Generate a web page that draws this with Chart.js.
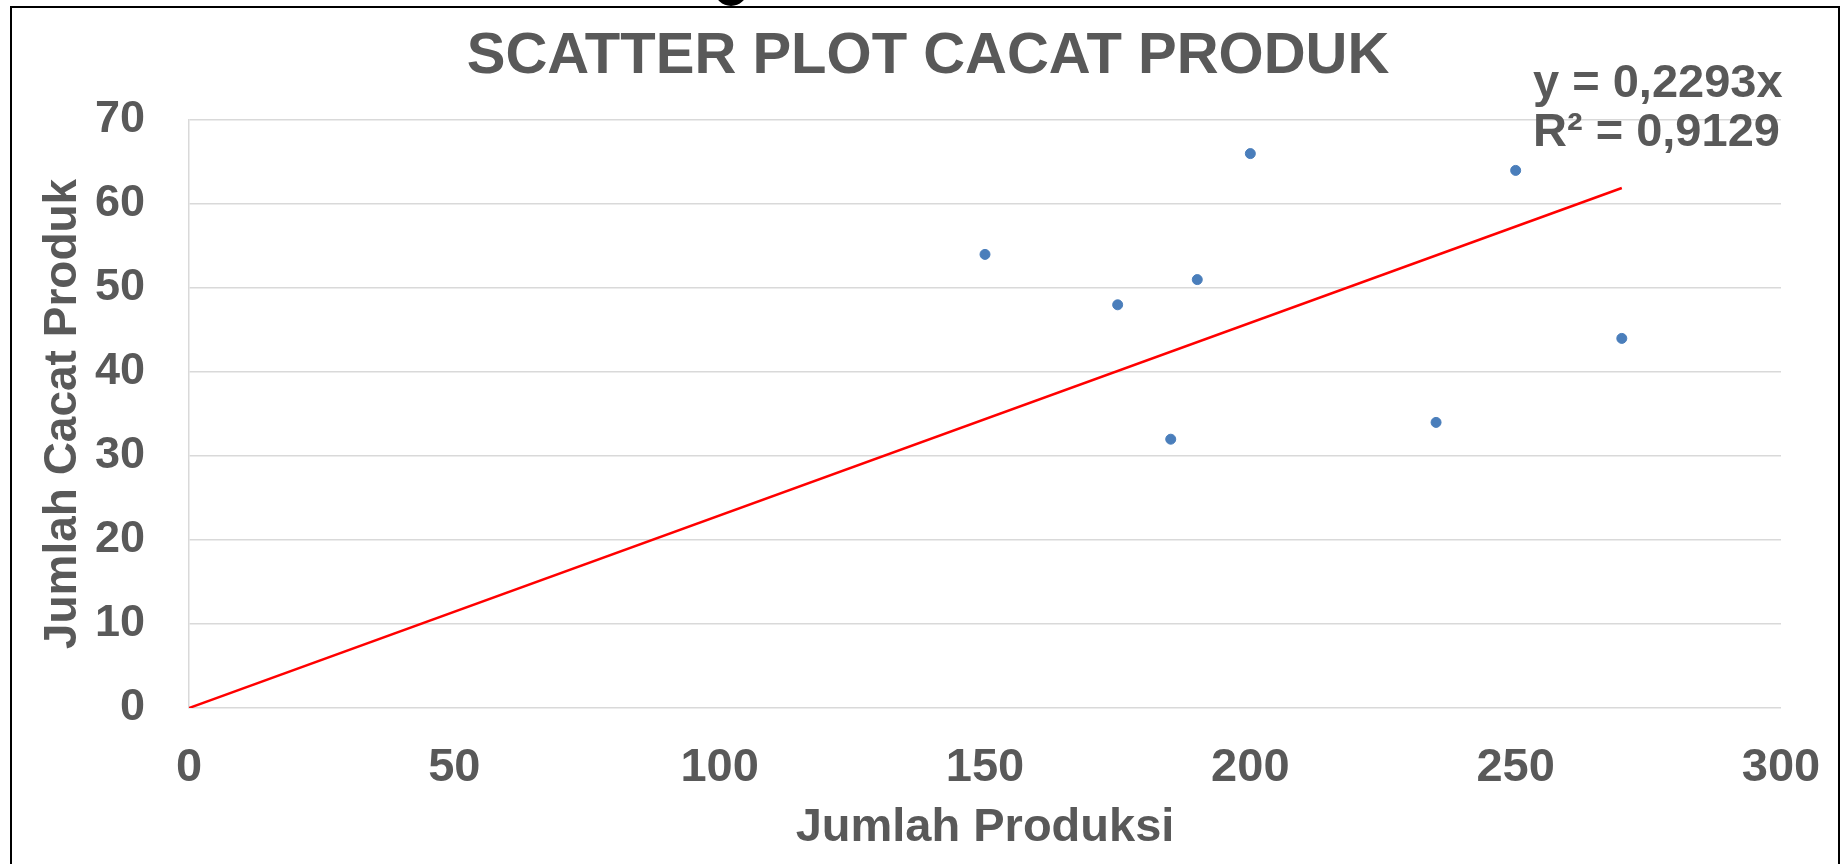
<!DOCTYPE html>
<html>
<head>
<meta charset="utf-8">
<title>Scatter Plot Cacat Produk</title>
<script src="https://cdn.jsdelivr.net/npm/chart.js@4.4.1/dist/chart.umd.min.js"></script>
<style>
  html, body { margin: 0; padding: 0; background: #fff; overflow: hidden; }
  #wrap { width: 1842px; height: 864px; position: relative; }
</style>
</head>
<body>
<div id="wrap"><canvas id="scatterChart" width="1842" height="864"></canvas></div>
<script>
// data
const produksi = [150, 175, 190, 200, 185, 235, 250, 270];
const cacat = [54, 48, 51, 66, 32, 34, 64, 44];

// linear trend through origin (Excel trendline), end points
const trendX = [0, 270];
const trendY = [0, 61.91];
const chartTitle = 'SCATTER PLOT CACAT PRODUK';
const equationLines = ['y = 0,2293x', 'R\u00B2 = 0,9129'];

const textGrey = '#595959';
const fontFam = '"Liberation Sans", Arial, sans-serif';

// frame, title and equation label
const decorPlugin = {
  id: 'decor',
  afterDraw(chart) {
    const ctx = chart.ctx;
    ctx.save();
    ctx.strokeStyle = '#000';
    ctx.lineWidth = 2;
    ctx.beginPath();
    ctx.moveTo(11, 870);
    ctx.lineTo(11, 7);
    ctx.lineTo(1839, 7);
    ctx.lineTo(1839, 870);
    ctx.stroke();
    // bit of a black shape cut off at the top edge
    ctx.fillStyle = '#000';
    ctx.beginPath();
    ctx.ellipse(731, -9, 16, 15, 0, 0, Math.PI * 2);
    ctx.fill();

    ctx.fillStyle = textGrey;
    ctx.textBaseline = 'middle';
    ctx.textAlign = 'center';
    ctx.font = 'bold 58px ' + fontFam;
    ctx.fillText(chartTitle, 928, 57);

    ctx.font = 'bold 47px ' + fontFam;
    ctx.textAlign = 'left';
    ctx.fillText(equationLines[0], 1533, 84);
    ctx.fillText(equationLines[1], 1533, 133);
    ctx.restore();
  }
};

const pts = produksi.map((x, i) => ({ x: x, y: cacat[i] }));
const trend = trendX.map((x, i) => ({ x: x, y: trendY[i] }));

new Chart(document.getElementById('scatterChart'), {
  type: 'scatter',
  data: {
    datasets: [
      {
        label: 'Jumlah Cacat Produk',
        data: pts,
        backgroundColor: '#4a7ebb',
        borderColor: '#4a7ebb',
        pointRadius: 5,
        pointHoverRadius: 5
      },
      {
        label: 'Linear',
        data: trend,
        showLine: true,
        borderColor: '#ff0000',
        borderWidth: 2.5,
        pointRadius: 0,
        fill: false
      }
    ]
  },
  options: {
    responsive: false,
    animation: false,
    devicePixelRatio: 1,
    layout: { padding: { top: 120, left: 0, right: 61, bottom: 0 } },
    plugins: {
      legend: { display: false },
      tooltip: { enabled: false },
      title: { display: false }
    },
    scales: {
      x: {
        type: 'linear',
        min: 0,
        max: 300,
        ticks: {
          stepSize: 50,
          color: textGrey,
          padding: 32,
          font: { family: fontFam, size: 47, weight: 'bold' }
        },
        grid: { display: false, drawTicks: false },
        border: { display: false },
        title: {
          display: true,
          text: 'Jumlah Produksi',
          color: textGrey,
          font: { family: fontFam, size: 47, weight: 'bold', lineHeight: 1.2 },
          padding: { top: 0, bottom: 8 }
        },
        afterFit(scale) {
          scale.height = 156;
          scale.paddingLeft = 0;
          scale.paddingRight = 0;
        }
      },
      y: {
        type: 'linear',
        min: 0,
        max: 70,
        ticks: {
          stepSize: 10,
          color: textGrey,
          padding: 44,
          font: { family: fontFam, size: 45, weight: 'bold' }
        },
        grid: { color: '#d9d9d9', lineWidth: 1.5, drawTicks: false },
        border: { display: true, color: '#d9d9d9', width: 1.5 },
        title: {
          display: true,
          text: 'Jumlah Cacat Produk',
          color: textGrey,
          font: { family: fontFam, size: 46, weight: 'bold', lineHeight: 1.2 },
          padding: { top: 36, bottom: 0 }
        },
        afterFit(scale) { scale.width = 189; }
      }
    }
  },
  plugins: [decorPlugin]
});
</script>
</body>
</html>
